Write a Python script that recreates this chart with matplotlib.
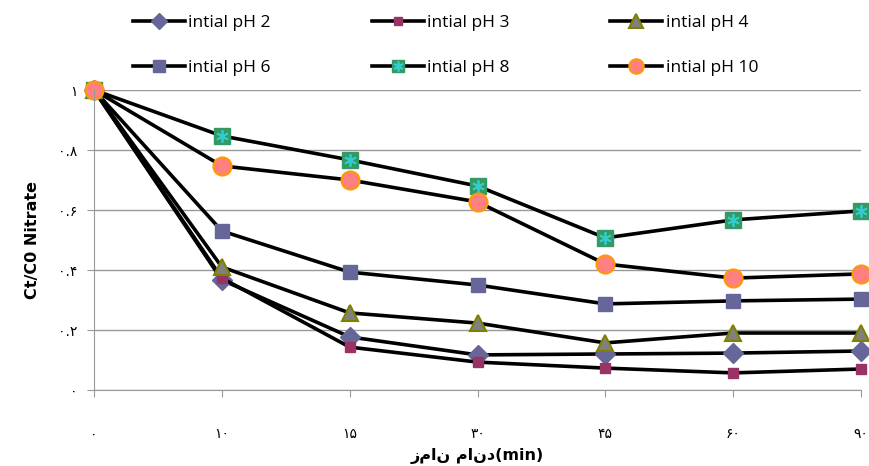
import numpy as np
import matplotlib
matplotlib.use("Agg")
import matplotlib.pyplot as plt
from matplotlib.legend_handler import HandlerTuple

# categories (equally spaced on the axis)
times = ["۰", "۱۰", "۱۵", "۳۰", "۴۵", "۶۰", "۹۰"]
y_ticks = [0, 0.2, 0.4, 0.6, 0.8, 1.0]
y_tick_labels = ["۰", "۰.۲", "۰.۴", "۰.۶", "۰.۸", "۱"]

ph2 = [1.0, 0.367, 0.177, 0.117, 0.120, 0.123, 0.130]
ph3 = [1.0, 0.373, 0.143, 0.093, 0.073, 0.057, 0.070]
ph4 = [1.0, 0.410, 0.257, 0.223, 0.157, 0.190, 0.190]
ph6 = [1.0, 0.530, 0.393, 0.350, 0.287, 0.297, 0.303]
ph8 = [1.0, 0.847, 0.767, 0.680, 0.507, 0.567, 0.597]
ph10 = [1.0, 0.747, 0.700, 0.627, 0.420, 0.373, 0.387]

x = np.arange(len(times))

fig = plt.figure(figsize=(8.69, 4.66), dpi=100)
ax = fig.add_axes([94/869, 76/466, 767/869, 300/466])

lw = 2.6
kw = dict(color="black", lw=lw, clip_on=False)

h2, = ax.plot(x, ph2, marker="D", ms=10, mfc="#666699", mec="#666699", **kw)
h3, = ax.plot(x, ph3, marker="s", ms=7, mfc="#993366", mec="#993366", **kw)
h4, = ax.plot(x, ph4, marker="^", ms=12, mfc="#808080", mec="#808000", mew=1.5, **kw)
h6, = ax.plot(x, ph6, marker="s", ms=10, mfc="#666699", mec="#666699", **kw)
h8, = ax.plot(x, ph8, marker="s", ms=11, mfc="#339966", mec="#339966", **kw)
h8s, = ax.plot(x, ph8, ls="none", marker=(6, 2, 0), ms=9, mec="#33CCCC", mew=1.3, clip_on=False)
h10, = ax.plot(x, ph10, marker="o", ms=13, mfc="#FF8080", mec="#FF9900", mew=1.5, **kw)

ax.set_xlim(0, len(times) - 1)
ax.set_ylim(0, 1)
ax.set_xticks(x)
ax.set_xticklabels(times, fontsize=10, family="DejaVu Sans")
ax.set_yticks(y_ticks)
ax.set_yticklabels(y_tick_labels, fontsize=10, family="DejaVu Sans")
ax.tick_params(axis="x", length=5, color="#999999", pad=22)
ax.tick_params(axis="y", length=5, color="#999999", pad=7)
ax.grid(axis="y", color="#999999", lw=1)
ax.set_axisbelow(True)
for s in ["top", "right"]:
    ax.spines[s].set_visible(False)
for s in ["left", "bottom"]:
    ax.spines[s].set_color("#999999")

ax.set_ylabel("Ct/C0 Nitrate", fontsize=11.5, fontweight="bold", labelpad=13)
ax.set_xlabel("زمان ماند(min)", fontsize=11.5, fontweight="bold",
              family="DejaVu Sans", labelpad=5)

handles = [h2, h6, h3, (h8, h8s), h4, h10]
labels = ["intial pH 2", "intial pH 6", "intial pH 3", "intial pH 8", "intial pH 4", "intial pH 10"]
fig.legend(handles, labels, loc="upper left", bbox_to_anchor=(118/869, 1.0),
           ncol=3, frameon=False, prop={"family": "Open Sans", "size": 12.5},
           handlelength=3.0, handletextpad=0.2, columnspacing=5.8, labelspacing=1.65,
           borderaxespad=0.45, markerscale=0.8,
           handler_map={tuple: HandlerTuple(ndivide=1, pad=0)})

fig.savefig("out.png", dpi=100)
